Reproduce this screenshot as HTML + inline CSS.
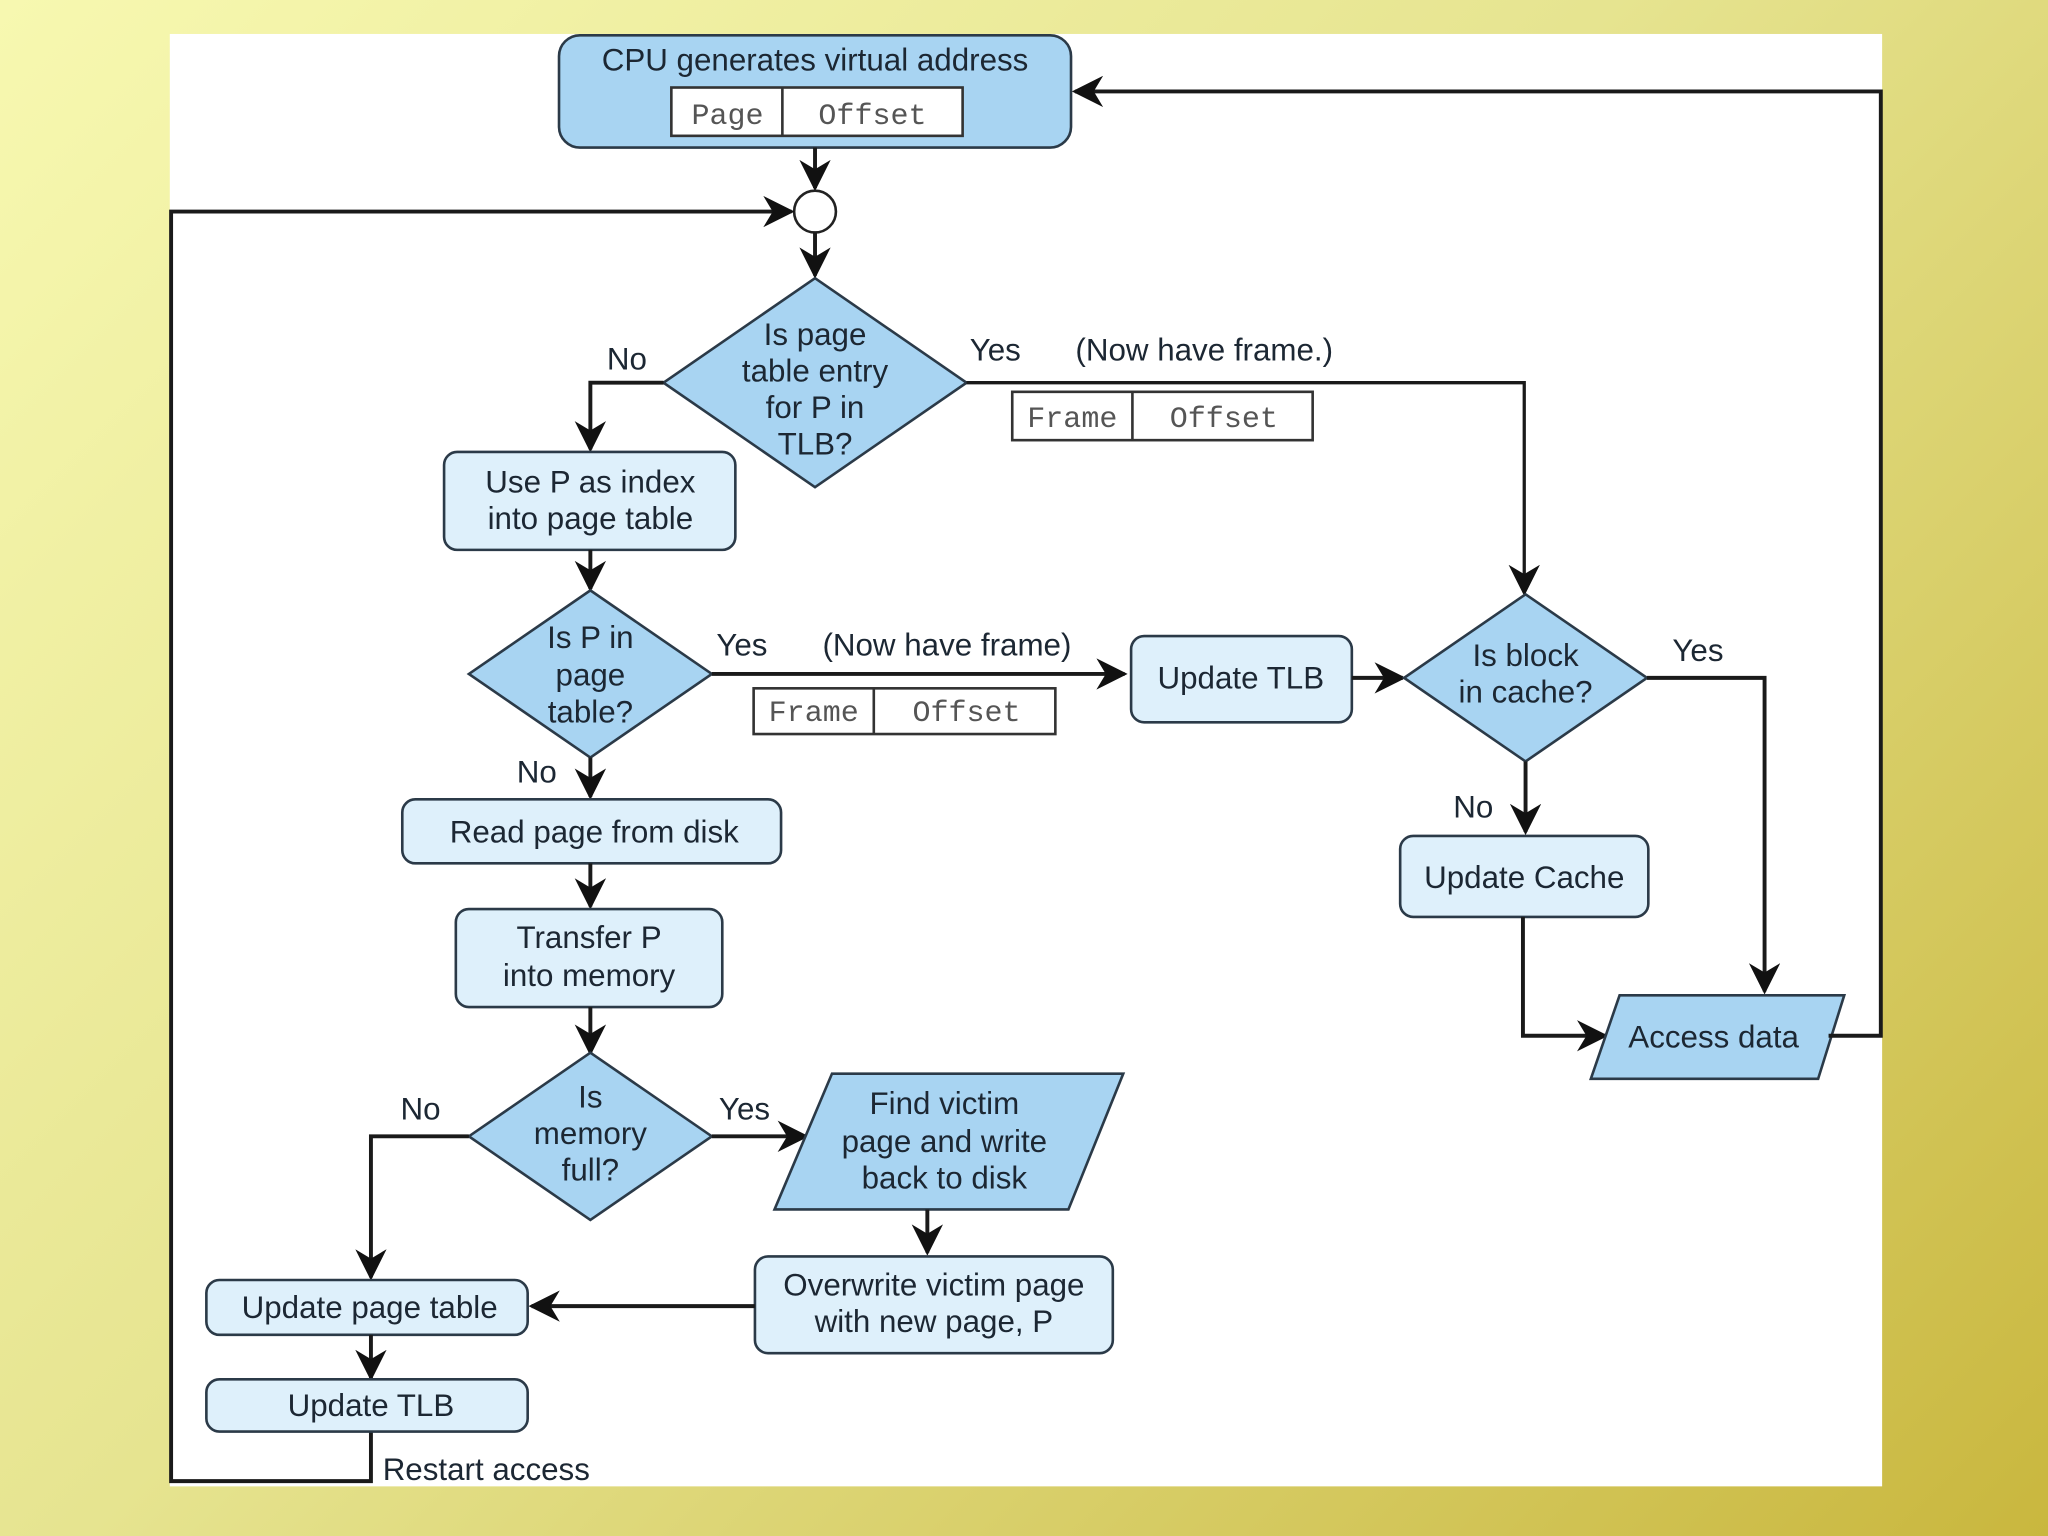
<!DOCTYPE html>
<html><head><meta charset="utf-8"><style>
html,body{margin:0;padding:0}
body{width:2048px;height:1536px;overflow:hidden;background:linear-gradient(135deg,#f7f8b0 0%,#e6e490 45%,#c9b73e 100%)}
svg{display:block}
text{font-family:"Liberation Sans",sans-serif;font-size:24px;fill:#1c2733}
.m{font-family:"Liberation Mono",monospace;font-size:23px;fill:#555}
.d{fill:#a8d4f2;stroke:#2b3a48;stroke-width:2}
.l{fill:#def0fb;stroke:#2b3a48;stroke-width:2}
.w{fill:#fff;stroke:#333;stroke-width:2}
.ln{fill:none;stroke:#1a1a1a;stroke-width:3}
</style></head><body>
<svg width="2048" height="1536" viewBox="0 0 1568 1176" xmlns="http://www.w3.org/2000/svg">
<defs><marker id="a" viewBox="0 0 10 10" refX="9" refY="5" markerWidth="7" markerHeight="7" orient="auto" markerUnits="userSpaceOnUse"><path d="M0,0 L10,5 L0,10 L3,5z" fill="#111"/></marker>
<marker id="b" viewBox="0 0 10 10" refX="9" refY="5" markerWidth="24" markerHeight="24" orient="auto" markerUnits="userSpaceOnUse"><path d="M0,0 L10,5 L0,10 L3,5z" fill="#111"/></marker></defs>
<rect x="130" y="26" width="1311" height="1112" fill="#fff"/>
<g text-anchor="middle">
<!-- CPU -->
<rect class="d" x="428" y="27" width="392" height="86" rx="16"/>
<text x="624" y="54">CPU generates virtual address</text>
<rect class="w" x="514" y="67" width="223" height="37"/><line x1="599" y1="67" x2="599" y2="104" stroke="#333" stroke-width="2"/>
<text class="m" x="557" y="95">Page</text><text class="m" x="668" y="95">Offset</text>
<line class="ln" x1="624" y1="113" x2="624" y2="144" marker-end="url(#b)"/>
<circle cx="624" cy="162" r="16" fill="#fff" stroke="#222" stroke-width="2"/>
<line class="ln" x1="624" y1="178" x2="624" y2="211" marker-end="url(#b)"/>
<polyline class="ln" points="284,1096 284,1134 131,1134 131,162 606,162" marker-end="url(#b)"/>
<!-- diamond1 -->
<polygon class="d" points="624,213 740,293 624,373 508,293"/>
<text x="624" y="264">Is page</text><text x="624" y="292">table entry</text><text x="624" y="320">for P in</text><text x="624" y="348">TLB?</text>
<polyline class="ln" points="508,293 452,293 452,344" marker-end="url(#b)"/>
<text x="480" y="283">No</text>
<polyline class="ln" points="740,293 1167,293 1167,454" marker-end="url(#b)" style="stroke-width:2.5"/>
<text x="762" y="276">Yes</text><text x="922" y="276">(Now have frame.)</text>
<rect class="w" x="775" y="300" width="230" height="37"/><line x1="867" y1="300" x2="867" y2="337" stroke="#333" stroke-width="2"/>
<text class="m" x="821" y="327">Frame</text><text class="m" x="937" y="327">Offset</text>
<!-- Use P -->
<rect class="l" x="340" y="346" width="223" height="75" rx="10"/>
<text x="452" y="377">Use P as index</text><text x="452" y="405">into page table</text>
<line class="ln" x1="452" y1="421" x2="452" y2="451" marker-end="url(#b)"/>
<!-- diamond2 -->
<polygon class="d" points="452,452 545,516 452,580 359,516"/>
<text x="452" y="496">Is P in</text><text x="452" y="525">page</text><text x="452" y="553">table?</text>
<line class="ln" x1="545" y1="516" x2="861" y2="516" marker-end="url(#b)"/>
<text x="568" y="502">Yes</text><text x="725" y="502">(Now have frame)</text>
<rect class="w" x="577" y="527" width="231" height="35"/><line x1="669" y1="527" x2="669" y2="562" stroke="#333" stroke-width="2"/>
<text class="m" x="623" y="552">Frame</text><text class="m" x="740" y="552">Offset</text>
<rect class="l" x="866" y="487" width="169" height="66" rx="10"/>
<text x="950" y="527">Update TLB</text>
<line class="ln" x1="1035" y1="519" x2="1074" y2="519" marker-end="url(#b)"/>
<!-- diamond3 -->
<polygon class="d" points="1168,455 1261,519 1168,583 1075,519"/>
<text x="1168" y="510">Is block</text><text x="1168" y="538">in cache?</text>
<polyline class="ln" points="1261,519 1351,519 1351,759" marker-end="url(#b)"/>
<text x="1300" y="506">Yes</text>
<line class="ln" x1="1168" y1="583" x2="1168" y2="637" marker-end="url(#b)"/>
<text x="1128" y="626">No</text>
<rect class="l" x="1072" y="640" width="190" height="62" rx="10"/>
<text x="1167" y="680">Update Cache</text>
<polyline class="ln" points="1166,702 1166,793 1229,793" marker-end="url(#b)"/>
<polygon class="d" points="1240,762 1412,762 1392,826 1218,826"/>
<text x="1312" y="802">Access data</text>
<polyline class="ln" points="1400,793 1440,793 1440,70 823,70" marker-end="url(#b)"/>
<!-- left chain -->
<line class="ln" x1="452" y1="580" x2="452" y2="610" marker-end="url(#b)"/>
<text x="411" y="599">No</text>
<rect class="l" x="308" y="612" width="290" height="49" rx="10"/>
<text x="455" y="645">Read page from disk</text>
<line class="ln" x1="452" y1="661" x2="452" y2="694" marker-end="url(#b)"/>
<rect class="l" x="349" y="696" width="204" height="75" rx="10"/>
<text x="451" y="726">Transfer P</text><text x="451" y="755">into memory</text>
<line class="ln" x1="452" y1="771" x2="452" y2="806" marker-end="url(#b)"/>
<polygon class="d" points="452,806 545,870 452,934 359,870"/>
<text x="452" y="848">Is</text><text x="452" y="876">memory</text><text x="452" y="904">full?</text>
<polyline class="ln" points="359,870 284,870 284,978" marker-end="url(#b)"/>
<text x="322" y="857">No</text>
<line class="ln" x1="545" y1="870" x2="617" y2="870" marker-end="url(#b)"/>
<text x="570" y="857">Yes</text>
<polygon class="d" points="637,822 860,822 818,926 593,926"/>
<text x="723" y="853">Find victim</text><text x="723" y="882">page and write</text><text x="723" y="910">back to disk</text>
<line class="ln" x1="710" y1="926" x2="710" y2="959" marker-end="url(#b)"/>
<rect class="l" x="578" y="962" width="274" height="74" rx="10"/>
<text x="715" y="992">Overwrite victim page</text><text x="715" y="1020">with new page, P</text>
<line class="ln" x1="578" y1="1000" x2="407" y2="1000" marker-end="url(#b)"/>
<rect class="l" x="158" y="980" width="246" height="42" rx="10"/>
<text x="283" y="1009">Update page table</text>
<line class="ln" x1="284" y1="1022" x2="284" y2="1055" marker-end="url(#b)"/>
<rect class="l" x="158" y="1056" width="246" height="40" rx="10"/>
<text x="284" y="1084">Update TLB</text>
</g>
<text x="293" y="1133">Restart access</text>
</svg>
</body></html>
